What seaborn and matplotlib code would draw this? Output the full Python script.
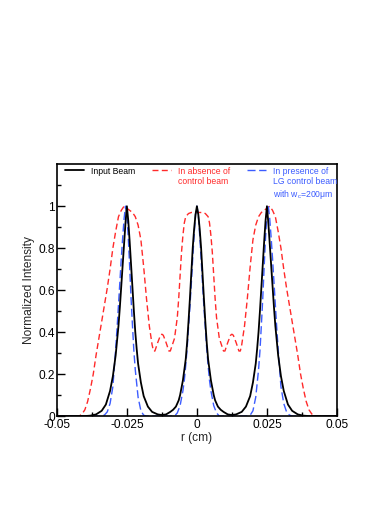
import matplotlib
matplotlib.use("Agg")
import matplotlib.pyplot as plt
from matplotlib.ticker import MultipleLocator
import seaborn as sns
import pandas as pd

# values (r in cm, normalized intensity)
input_r = [-0.05, -0.04, -0.038, -0.036, -0.034, -0.0325, -0.031, -0.030, -0.029, -0.028,
           -0.0275, -0.027, -0.0265, -0.026, -0.0255, -0.025, -0.0245, -0.024, -0.0235, -0.023,
           -0.0225, -0.022, -0.0215, -0.021, -0.020, -0.019, -0.0175, -0.016, -0.014, -0.0125,
           -0.011, -0.0095, -0.0085, -0.0075, -0.0065, -0.006, -0.005, -0.004, -0.0035, -0.003,
           -0.0025, -0.002, -0.0015, -0.001, -0.0005, 0.0,
           0.0005, 0.001, 0.0015, 0.002, 0.0025, 0.003, 0.0035, 0.004, 0.005, 0.006,
           0.0065, 0.0075, 0.0085, 0.0095, 0.011, 0.0125, 0.014, 0.016, 0.0175, 0.019,
           0.020, 0.021, 0.0215, 0.022, 0.0225, 0.023, 0.0235, 0.024, 0.0245, 0.025,
           0.0255, 0.026, 0.0265, 0.027, 0.0275, 0.028, 0.029, 0.030, 0.031, 0.0325,
           0.034, 0.036, 0.038, 0.04, 0.05]
input_i = [0.0, 0.0, 0.002, 0.008, 0.025, 0.055, 0.12, 0.19, 0.29, 0.43,
           0.52, 0.62, 0.72, 0.82, 0.92, 1.0, 0.93, 0.83, 0.72, 0.61,
           0.50, 0.40, 0.32, 0.25, 0.16, 0.095, 0.045, 0.02, 0.008, 0.005,
           0.008, 0.02, 0.03, 0.045, 0.075, 0.10, 0.17, 0.27, 0.35, 0.45,
           0.56, 0.68, 0.80, 0.89, 0.96, 1.0,
           0.96, 0.89, 0.80, 0.68, 0.56, 0.45, 0.35, 0.27, 0.17, 0.10,
           0.075, 0.045, 0.03, 0.02, 0.008, 0.005, 0.008, 0.02, 0.045, 0.095,
           0.16, 0.25, 0.32, 0.40, 0.50, 0.61, 0.72, 0.83, 0.93, 1.0,
           0.92, 0.82, 0.72, 0.62, 0.52, 0.43, 0.29, 0.19, 0.12, 0.055,
           0.025, 0.008, 0.002, 0.0, 0.0]

absent_r = [-0.05, -0.042, -0.041, -0.040, -0.039, -0.038, -0.037, -0.036, -0.035, -0.034,
            -0.033, -0.032, -0.031, -0.030, -0.029, -0.028, -0.027, -0.026, -0.025, -0.024,
            -0.023, -0.022, -0.021, -0.020, -0.019, -0.018, -0.017, -0.016, -0.0155, -0.015,
            -0.014, -0.013, -0.0125, -0.012, -0.011, -0.010, -0.0095, -0.009, -0.008, -0.007,
            -0.0065, -0.006, -0.0055, -0.005, -0.0045, -0.004, -0.003, -0.002, -0.001, 0.0,
            0.001, 0.002, 0.003, 0.004, 0.0045, 0.005, 0.0055, 0.006, 0.0065, 0.007,
            0.008, 0.009, 0.0095, 0.010, 0.011, 0.012, 0.0125, 0.013, 0.014, 0.015,
            0.0155, 0.016, 0.017, 0.018, 0.019, 0.020, 0.021, 0.022, 0.023, 0.024,
            0.025, 0.026, 0.027, 0.028, 0.029, 0.030, 0.031, 0.032, 0.033, 0.034,
            0.035, 0.036, 0.037, 0.038, 0.039, 0.040, 0.041, 0.042, 0.05]
absent_i = [0.0, 0.0, 0.01, 0.03, 0.07, 0.13, 0.20, 0.29, 0.37, 0.45,
            0.53, 0.61, 0.70, 0.80, 0.88, 0.95, 0.98, 1.0, 0.99, 0.98,
            0.97, 0.95, 0.91, 0.84, 0.71, 0.56, 0.43, 0.34, 0.31, 0.31,
            0.35, 0.385, 0.39, 0.385, 0.35, 0.31, 0.31, 0.33, 0.37, 0.47,
            0.56, 0.67, 0.78, 0.86, 0.92, 0.95, 0.965, 0.97, 0.97, 0.97,
            0.97, 0.97, 0.965, 0.95, 0.92, 0.86, 0.78, 0.67, 0.56, 0.47,
            0.37, 0.33, 0.31, 0.31, 0.35, 0.385, 0.39, 0.385, 0.35, 0.31,
            0.31, 0.34, 0.43, 0.56, 0.71, 0.84, 0.91, 0.95, 0.97, 0.98,
            0.99, 1.0, 0.98, 0.95, 0.88, 0.80, 0.70, 0.61, 0.53, 0.45,
            0.37, 0.29, 0.20, 0.13, 0.07, 0.03, 0.01, 0.0, 0.0]

present_r = [-0.05, -0.034, -0.033, -0.032, -0.031, -0.030, -0.029, -0.0285, -0.028, -0.0275,
             -0.027, -0.0265, -0.026, -0.0255, -0.025, -0.0245, -0.024, -0.0235, -0.023, -0.0225,
             -0.022, -0.021, -0.020, -0.019, -0.018, -0.008, -0.007, -0.006, -0.005, -0.0045,
             -0.004, -0.0035, -0.003, -0.0025, -0.002, -0.0015, -0.001, -0.0005, 0.0,
             0.0005, 0.001, 0.0015, 0.002, 0.0025, 0.003, 0.0035, 0.004, 0.0045, 0.005,
             0.006, 0.007, 0.008, 0.018, 0.019, 0.020, 0.021, 0.022, 0.0225, 0.023,
             0.0235, 0.024, 0.0245, 0.025, 0.0255, 0.026, 0.0265, 0.027, 0.0275, 0.028,
             0.0285, 0.029, 0.030, 0.031, 0.032, 0.033, 0.034, 0.05]
present_i = [0.0, 0.0, 0.005, 0.02, 0.06, 0.14, 0.32, 0.42, 0.53, 0.64,
             0.75, 0.85, 0.94, 1.0, 0.96, 0.85, 0.71, 0.56, 0.43, 0.31,
             0.22, 0.09, 0.025, 0.004, 0.0, 0.0, 0.015, 0.05, 0.12, 0.17,
             0.24, 0.32, 0.42, 0.52, 0.63, 0.75, 0.86, 0.96, 1.0,
             0.96, 0.86, 0.75, 0.63, 0.52, 0.42, 0.32, 0.24, 0.17, 0.12,
             0.05, 0.015, 0.0, 0.0, 0.004, 0.025, 0.09, 0.22, 0.31, 0.43,
             0.56, 0.71, 0.85, 0.96, 1.0, 0.94, 0.85, 0.75, 0.64, 0.53,
             0.42, 0.32, 0.14, 0.06, 0.02, 0.005, 0.0, 0.0]

x_ticks = [-0.05, -0.025, 0, 0.025, 0.05]
x_tick_labels = ["-0.05", "-0.025", "0", "0.025", "0.05"]
y_ticks = [0, 0.2, 0.4, 0.6, 0.8, 1.0]
y_tick_labels = ["0", "0.2", "0.4", "0.6", "0.8", "1"]

labels = ["Input Beam", "In absence of\ncontrol beam",
          "In presence of\nLG control beam\nwith w$_{\\rm c}$=200\u03bcm"]
colors = ["black", "#ff2a2a", "#3c5cff"]

sns.set_style("ticks")
plt.rcParams["font.family"] = ["Liberation Sans", "DejaVu Sans"]
plt.rcParams["mathtext.fontset"] = "custom"
plt.rcParams["mathtext.rm"] = "Liberation Sans"

fig = plt.figure(figsize=(3.74, 5.28), dpi=100)
ax = fig.add_axes([0.152, 0.212, 0.749, 0.477])

df_in = pd.DataFrame({"r": input_r, "I": input_i})
df_ab = pd.DataFrame({"r": absent_r, "I": absent_i})
df_pr = pd.DataFrame({"r": present_r, "I": present_i})

sns.lineplot(data=df_ab, x="r", y="I", ax=ax, color=colors[1], lw=1.0,
             linestyle=(0, (4.3, 2.4)), label=labels[1], errorbar=None, sort=False)
sns.lineplot(data=df_pr, x="r", y="I", ax=ax, color=colors[2], lw=1.0,
             linestyle=(0, (5.8, 2.6)), label=labels[2], errorbar=None, sort=False)
sns.lineplot(data=df_in, x="r", y="I", ax=ax, color=colors[0], lw=1.3,
             label=labels[0], errorbar=None, sort=False)

ax.set_xlim(-0.05, 0.05)
ax.set_ylim(0, 1.2)
ax.set_xticks(x_ticks)
ax.set_xticklabels(x_tick_labels)
ax.set_yticks(y_ticks)
ax.set_yticklabels(y_tick_labels)
ax.xaxis.set_minor_locator(MultipleLocator(0.0125))
ax.set_yticks([0.1, 0.3, 0.5, 0.7, 0.9, 1.1], minor=True)
ax.tick_params(which="both", direction="in", top=False, right=False, width=1.0,
               labelsize=8.6, colors="black")
ax.tick_params(which="major", length=5.5, pad=2)
ax.tick_params(which="minor", length=3)
ax.tick_params(axis="y", pad=1.5)
for s in ax.spines.values():
    s.set_linewidth(1.2)
    s.set_color("black")
ax.set_xlabel("r (cm)", fontsize=8.6, labelpad=1)
ax.set_ylabel("Normalized Intensity", fontsize=8.6, labelpad=2)

# legend in the order of the reference, texts coloured like their lines
h, l = ax.get_legend_handles_labels()
order = [2, 0, 1]
leg = ax.legend([h[i] for i in order], [l[i] for i in order], ncol=3,
                loc="upper left", bbox_to_anchor=(0.028, 0.99), frameon=False,
                fontsize=6.2, handlelength=2.2, handletextpad=0.8,
                columnspacing=2.0, borderaxespad=0, borderpad=0)
for txt, c in zip(leg.get_texts(), colors):
    txt.set_color(c)
    txt.set_linespacing(1.2)
# entries hang from the top like in the reference
leg._legend_handle_box.align = "top"
for col in leg._legend_handle_box.get_children():
    col.align = "left"
    for item in col.get_children():
        item.align = "top"

fig.savefig("out.png", dpi=100)
